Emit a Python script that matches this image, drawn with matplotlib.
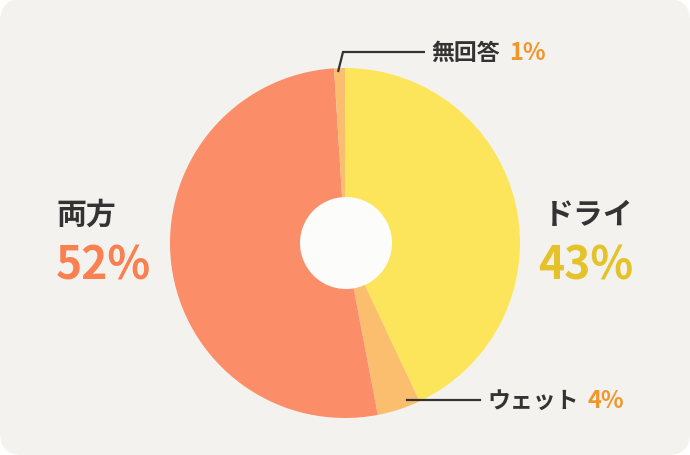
import matplotlib
matplotlib.use("Agg")
import matplotlib.pyplot as plt
from matplotlib.patches import FancyBboxPatch, Circle

plt.rcParams['font.family'] = ['Noto Sans CJK JP', 'DejaVu Sans']

# Data (clockwise from top)
categories = ["ドライ", "ウェット", "両方", "無回答"]
values = [43, 4, 52, 1]
colors = ["#fce55a", "#fbbd6e", "#fb8e68", "#fbbd6e"]

W, H = 690, 456
fig = plt.figure(figsize=(W / 100, H / 100), dpi=100, facecolor="white")
ax = fig.add_axes([0, 0, 1, 1])

def Y(y):
    return H - y

bg = FancyBboxPatch((0, 0), W, H, boxstyle="round,pad=0,rounding_size=22",
                    facecolor="#f4f2ef", edgecolor="none", zorder=0)
ax.add_patch(bg)

cx, cy, r = 345, Y(244), 175
ax.pie(values, colors=colors, startangle=90, counterclock=False,
       center=(cx, cy), radius=r, wedgeprops=dict(linewidth=0), frame=False)
ax.add_patch(Circle((346, cy), 46, facecolor="#fcfcfa", edgecolor="none", zorder=5))

ax.set_xlim(0, W)
ax.set_ylim(0, H)
ax.set_aspect("equal")
ax.axis("off")

dark = "#333333"
# Leader lines
ax.plot([338, 343, 425], [Y(73), Y(53), Y(53)], color="#333333", lw=1.6, zorder=6,
        solid_capstyle="butt", solid_joinstyle="miter")
ax.plot([407, 480], [Y(401), Y(401)], color="#333333", lw=1.6, zorder=6)

# Small labels
ax.text(431, Y(53), categories[3], fontsize=16.5, fontweight="bold", color=dark,
        ha="left", va="center")
ax.text(509, Y(53), f"{values[3]}%", fontsize=17, fontweight="bold", color="#f0962a",
        ha="left", va="center")
ax.text(487, Y(401), categories[1], fontsize=16.5, fontweight="bold", color=dark,
        ha="left", va="center")
ax.text(587, Y(401), f"{values[1]}%", fontsize=17, fontweight="bold", color="#f0962a",
        ha="left", va="center")

# Big labels
ax.text(56, Y(215), categories[2], fontsize=21.5, fontweight="bold", color=dark,
        ha="left", va="center")
ax.text(56, Y(266), f"{values[2]}%", fontsize=32, fontweight="bold", color="#f98050",
        ha="left", va="center")
ax.text(544, Y(215), categories[0], fontsize=21.5, fontweight="bold", color=dark,
        ha="left", va="center")
ax.text(538, Y(266), f"{values[0]}%", fontsize=32, fontweight="bold", color="#e5c22a",
        ha="left", va="center")

fig.savefig("out.png", dpi=100, facecolor="white")
